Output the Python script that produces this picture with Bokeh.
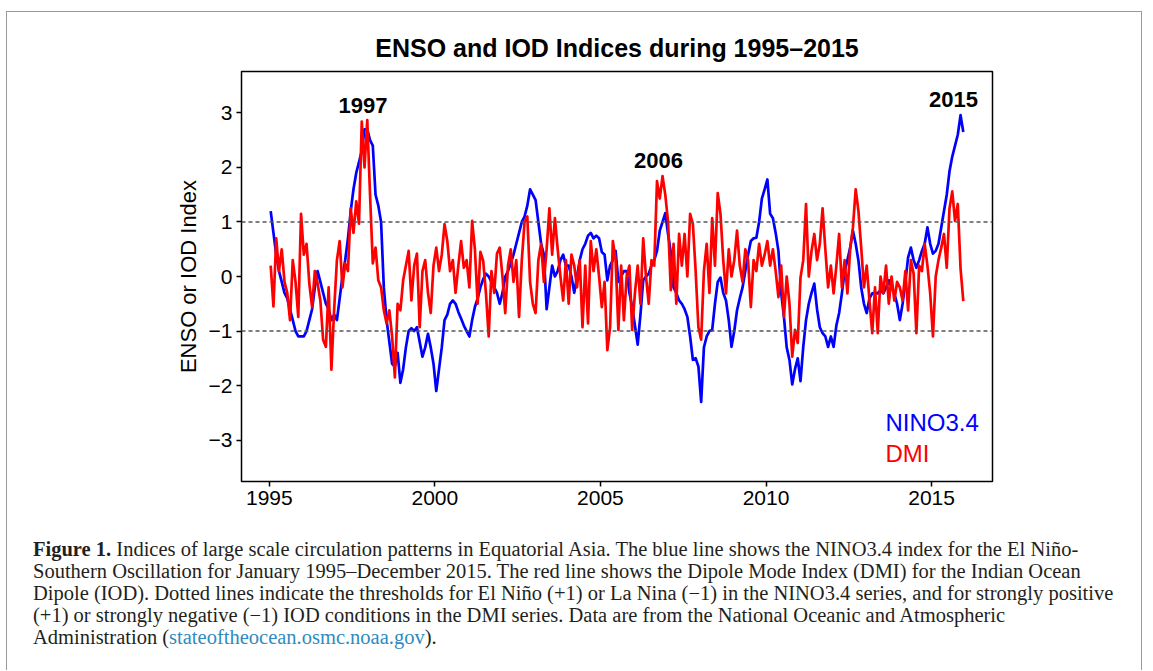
import numpy as np
from bokeh.plotting import figure
from bokeh.models import Range1d, FixedTicker, Span, Label, Div
from bokeh.layouts import column
from bokeh.embed import file_html
from bokeh.resources import INLINE

# ---------------- data (monthly, Jan 1995 - Dec 2015) ----------------
nino34 = [
    1.2, 0.8, 0.4, 0.1, -0.1, -0.3, -0.4, -0.6, -0.8, -1.0, -1.1, -1.1,        # 1995
    -1.1, -1.0, -0.8, -0.6, -0.2, 0.1, -0.1, -0.3, -0.5, -0.6, -0.8, -0.7,     # 1996
    -0.8, -0.4, 0.0, 0.3, 0.7, 1.2, 1.6, 1.9, 2.1, 2.3, 2.7, 2.7,              # 1997
    2.5, 2.4, 1.5, 1.3, 1.0, -0.2, -0.8, -1.2, -1.6, -1.65, -1.4, -1.95,       # 1998
    -1.7, -1.3, -1.0, -0.95, -1.0, -0.93, -1.2, -1.47, -1.3, -1.05, -1.3, -1.6,  # 1999
    -2.1, -1.7, -1.3, -0.8, -0.7, -0.5, -0.44, -0.5, -0.65, -0.77, -0.9, -1.0,   # 2000
    -1.1, -0.8, -0.56, -0.4, -0.2, -0.05, 0.05, 0.0, -0.1, -0.2, -0.3, -0.5,     # 2001
    -0.3, 0.0, 0.1, 0.24, 0.4, 0.6, 0.8, 1.0, 1.1, 1.3, 1.6, 1.5,              # 2002
    1.4, 1.0, 0.6, 0.4, -0.6, -0.2, 0.2, 0.0, 0.1, 0.3, 0.4, 0.2,              # 2003
    0.2, 0.0, -0.3, 0.0, 0.3, 0.5, 0.6, 0.75, 0.8, 0.7, 0.75, 0.7,             # 2004
    0.45, 0.4, -0.07, 0.2, 0.3, 0.47, -0.1, 0.0, 0.1, 0.1, -0.3, -0.56,        # 2005
    -0.9, -1.25, -0.7, -0.07, 0.0, 0.05, 0.2, 0.3, 0.47, 0.84, 1.0, 1.16,      # 2006
    0.78, 0.44, -0.2, -0.3, -0.44, -0.5, -0.6, -0.74, -1.1, -1.53, -1.5, -1.65,  # 2007
    -2.3, -1.3, -1.1, -1.0, -0.98, -0.5, -0.1, -0.02, -0.3, -0.44, -0.8, -1.29,  # 2008
    -1.0, -0.62, -0.4, -0.2, 0.1, 0.4, 0.65, 0.7, 0.71, 1.0, 1.43, 1.6,        # 2009
    1.78, 1.15, 1.07, 0.8, 0.47, -0.3, -0.74, -1.3, -1.53, -1.98, -1.7, -1.5,  # 2010
    -1.92, -1.29, -0.8, -0.5, -0.3, -0.13, -0.6, -0.93, -1.04, -1.1, -1.29, -1.1,  # 2011
    -1.29, -0.9, -0.67, -0.31, 0.1, 0.3, 0.53, 0.84, 0.6, 0.29, -0.2, -0.5,    # 2012
    -0.67, -0.4, -0.31, -0.3, -0.31, -0.25, -0.31, -0.2, -0.07, -0.2, -0.31, -0.5,  # 2013
    -0.8, -0.5, -0.1, 0.35, 0.53, 0.3, 0.16, 0.3, 0.47, 0.6, 0.9, 0.6,         # 2014
    0.42, 0.47, 0.6, 0.9, 1.2, 1.5, 1.93, 2.2, 2.4, 2.6, 2.96, 2.65,           # 2015
]

dmi = [
    0.2, -0.55, 0.7, 0.1, 0.5, -0.1, -0.3, -0.8, 0.3, -0.1, -0.74, 1.15,       # 1995
    0.4, 0.6, -0.13, -0.56, 0.1, -0.13, -0.44, -1.16, -1.29, -0.2, -1.71, -0.6,  # 1996
    0.3, 0.65, -0.2, 0.24, 0.1, 1.25, 0.8, 1.38, 0.97, 2.84, 2.0, 2.87,        # 1997
    1.5, 0.24, 0.53, -0.07, -0.2, -0.62, -0.86, -0.62, -1.1, -1.85, -0.5, -0.62,  # 1998
    -0.07, 0.2, 0.47, -0.44, 0.2, 0.42, -0.93, 0.1, 0.3, -0.3, -0.67, 0.2,     # 1999
    0.53, 0.1, 0.4, 0.96, 0.65, 0.1, 0.3, -0.3, 0.2, 0.65, 0.16, 0.3,          # 2000
    -0.2, 1.02, 0.5, -0.5, 0.45, 0.29, -0.3, -1.1, 0.1, -0.3, 0.42, 0.53,      # 2001
    0.0, -0.67, 0.2, 0.5, -0.1, 0.3, -0.74, 0.3, 1.0, 1.1, -0.1, -0.5,         # 2002
    -0.67, 0.3, 0.6, -0.1, 0.5, 1.25, 0.4, 1.07, 0.5, 0.0, -0.44, 0.3,         # 2003
    -0.5, 0.4, 0.2, -0.2, 0.3, -0.93, 0.2, -0.86, 0.65, 0.1, 0.5, 0.0,         # 2004
    -0.56, -0.1, -1.35, -0.93, 0.65, 0.3, -0.98, 0.2, -0.8, 0.0, 0.2, -0.98,   # 2005
    -0.3, 0.2, -0.5, 0.7, 0.0, -0.5, 0.3, 0.2, 1.75, 1.43, 1.84, 1.5,          # 2006
    1.0, -0.25, 0.6, -0.5, 0.78, 0.2, 0.78, 0.0, 1.15, 0.96, 0.1, -0.93,       # 2007
    -1.16, 0.1, 0.6, -0.3, 1.07, 0.2, 1.53, 1.15, 0.3, -0.31, 0.5, 0.0,        # 2008
    0.3, 0.84, 0.2, -0.1, 0.5, 0.3, -0.56, 0.3, 0.1, 0.6, 0.2, 0.4,            # 2009
    0.65, 0.2, 0.5, 0.1, -0.38, 0.2, -0.74, 0.0, -0.5, -1.47, -0.98, -1.22,    # 2010
    -0.02, 0.3, 1.33, 0.0, 0.47, 0.78, 0.3, 0.6, 1.25, 0.5, -0.2, 0.2,         # 2011
    -0.31, 0.2, 0.78, -0.2, 0.3, -0.31, 0.5, 0.9, 1.6, 1.2, 0.53, -0.2,        # 2012
    0.2, -0.44, -1.04, -0.2, -1.04, 0.0, -0.3, 0.2, -0.5, 0.0, -0.44, -0.1,    # 2013
    -0.2, -0.44, 0.1, -0.62, 0.3, 0.05, -1.04, 0.2, 0.1, 0.6, 0.2, -0.31,      # 2014
    -1.1, 0.0, 0.3, 0.53, 0.78, 0.16, 1.25, 1.56, 1.02, 1.33, 0.15, -0.45,     # 2015
]

start_year = 1995
x_ticks = [1995, 2000, 2005, 2010, 2015]
y_ticks = [-3, -2, -1, 0, 1, 2, 3]
y_tick_labels = ["\u22123", "\u22122", "\u22121", "0", "1", "2", "3"]
thresholds = [-1, 1]
event_labels = ["1997", "2006", "2015"]
event_x = [1997.83, 2006.75, 2015.66]
event_y = [3.14, 2.13, 3.25]
series_names = ["NINO3.4", "DMI"]

t = start_year + (np.arange(len(nino34)) + 0.5) / 12.0

SANS = "Liberation Sans"
BLUE = "#0000FF"
RED = "#FF0000"

p = figure(width=1137, height=531,
           title="ENSO and IOD Indices during 1995\u20132015",
           x_range=Range1d(1994.16, 2016.84), y_range=Range1d(-3.76, 3.76),
           output_backend="svg", toolbar_location=None,
           min_border_left=241, min_border_right=145,
           min_border_top=71, min_border_bottom=50)
p.title.align = "center"
p.title.text_font = SANS
p.title.text_font_size = "25px"
p.title.text_font_style = "bold"
p.title.text_color = "black"
p.title.standoff = 19

p.grid.visible = False
p.outline_line_color = "black"
p.outline_line_width = 1.5
p.background_fill_color = "white"
p.border_fill_color = "white"

for ax in (p.xaxis[0], p.yaxis[0]):
    ax.axis_line_color = None
    ax.minor_tick_line_color = None
    ax.major_tick_line_color = "black"
    ax.major_tick_line_width = 1.5
    ax.major_tick_in = 0
    ax.major_tick_out = 5
    ax.major_label_text_font = SANS
    ax.major_label_text_font_size = "21px"
    ax.major_label_text_color = "black"
    ax.major_label_standoff = 4

p.xaxis.ticker = FixedTicker(ticks=x_ticks)
p.yaxis.ticker = FixedTicker(ticks=y_ticks)
p.yaxis.major_label_overrides = {v: s for v, s in zip(y_ticks, y_tick_labels)}
p.yaxis.major_label_orientation = "horizontal"
p.yaxis.axis_label = "ENSO or IOD Index"
p.yaxis.axis_label_text_font = SANS
p.yaxis.axis_label_text_font_size = "22px"
p.yaxis.axis_label_text_font_style = "normal"
p.yaxis.axis_label_text_color = "black"
p.yaxis.axis_label_standoff = 5

for v in thresholds:
    p.add_layout(Span(location=v, dimension="width", line_color="#555555",
                      line_width=1.5, line_dash="4 3"))

p.line(t, nino34, line_color=BLUE, line_width=2.7, line_join="round")
p.line(t, dmi, line_color=RED, line_width=2.7, line_join="round")

for txt, ex, ey in zip(event_labels, event_x, event_y):
    p.add_layout(Label(x=ex, y=ey, text=txt, text_align="center", text_baseline="middle",
                       text_font=SANS, text_font_size="22px", text_font_style="bold",
                       text_color="black"))

# legend texts (frame-relative screen units)
for name, col, yy in zip(series_names, [BLUE, RED], [59, 28]):
    p.add_layout(Label(x=644, y=yy, x_units="screen", y_units="screen", text=name,
                       text_align="left", text_baseline="middle",
                       text_font=SANS, text_font_size="24px", text_color=col))

caption_lines = [
    "<b>Figure 1.</b> Indices of large scale circulation patterns in Equatorial Asia. The blue line shows the NINO3.4 index for the El Ni\u00f1o-",
    "Southern Oscillation for January 1995\u2013December 2015. The red line shows the Dipole Mode Index (DMI) for the Indian Ocean",
    "Dipole (IOD). Dotted lines indicate the thresholds for El Ni\u00f1o (+1) or La Nina (\u22121) in the NINO3.4 series, and for strongly positive",
    "(+1) or strongly negative (\u22121) IOD conditions in the DMI series. Data are from the National Oceanic and Atmospheric",
    "Administration (<span style=\"color:#2e8bc0\">stateoftheocean.osmc.noaa.gov</span>).",
]
html = ("<div style=\"position:relative; width:1137px; height:124px;\">"
        "<div style=\"position:absolute; left:1px; top:-525px; width:1136px; height:659px;"
        " box-sizing:border-box; border:1.5px solid #9a9a9a; border-bottom:none;"
        " pointer-events:none;\"></div>"
        "<div style=\"position:absolute; left:28px; top:2px;"
        " font-family:'Liberation Serif', serif; font-size:20.5px; line-height:22px;"
        " color:#231f20; white-space:nowrap;\">"
        + "<br>".join(caption_lines) + "</div></div>")
cap = Div(text=html, width=1137, height=124)

layout = column(p, cap)
open("out.html", "w").write(file_html(layout, INLINE))
